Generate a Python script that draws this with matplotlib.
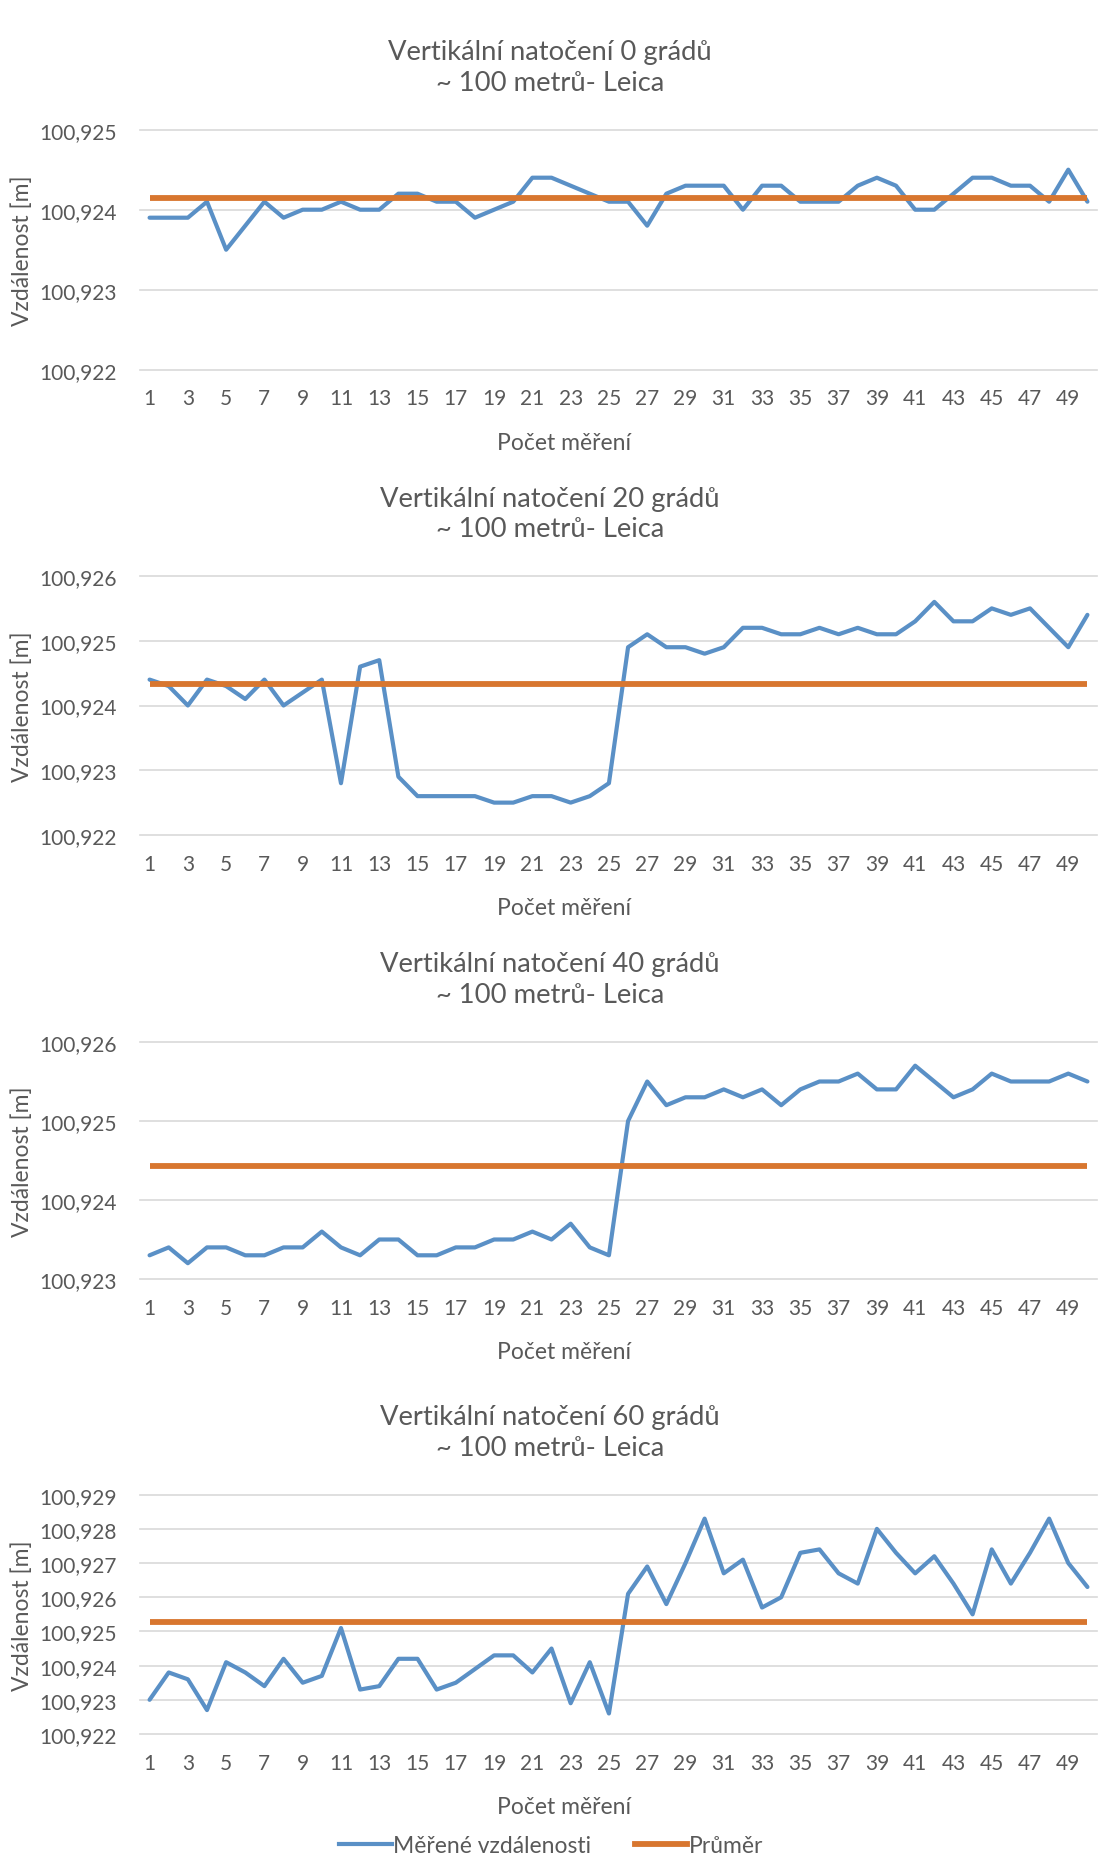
import matplotlib
matplotlib.use("Agg")
import matplotlib.pyplot as plt
from matplotlib.lines import Line2D

plt.rcParams['font.family'] = ['Lato', 'DejaVu Sans']

# ---------------- data ----------------
measurements = list(range(1, 51))
x_tick_values = list(range(1, 50, 2))

titles = ["Vertikální natočení 0 grádů", "Vertikální natočení 20 grádů",
          "Vertikální natočení 40 grádů", "Vertikální natočení 60 grádů"]
subtitle = "~ 100 metrů- Leica"
x_label = "Počet měření"
y_label = "Vzdálenost [m]"
series_names = ["Měřené vzdálenosti", "Průměr"]

vals_0 = [100.9239, 100.9239, 100.9239, 100.9241, 100.9235, 100.9238, 100.9241, 100.9239, 100.9240, 100.9240,
          100.9241, 100.9240, 100.9240, 100.9242, 100.9242, 100.9241, 100.9241, 100.9239, 100.9240, 100.9241,
          100.9244, 100.9244, 100.9243, 100.9242, 100.9241, 100.9241, 100.9238, 100.9242, 100.9243, 100.9243,
          100.9243, 100.9240, 100.9243, 100.9243, 100.9241, 100.9241, 100.9241, 100.9243, 100.9244, 100.9243,
          100.9240, 100.9240, 100.9242, 100.9244, 100.9244, 100.9243, 100.9243, 100.9241, 100.9245, 100.9241]

vals_20 = [100.9244, 100.9243, 100.9240, 100.9244, 100.9243, 100.9241, 100.9244, 100.9240, 100.9242, 100.9244,
           100.9228, 100.9246, 100.9247, 100.9229, 100.9226, 100.9226, 100.9226, 100.9226, 100.9225, 100.9225,
           100.9226, 100.9226, 100.9225, 100.9226, 100.9228, 100.9249, 100.9251, 100.9249, 100.9249, 100.9248,
           100.9249, 100.9252, 100.9252, 100.9251, 100.9251, 100.9252, 100.9251, 100.9252, 100.9251, 100.9251,
           100.9253, 100.9256, 100.9253, 100.9253, 100.9255, 100.9254, 100.9255, 100.9252, 100.9249, 100.9254]

vals_40 = [100.9233, 100.9234, 100.9232, 100.9234, 100.9234, 100.9233, 100.9233, 100.9234, 100.9234, 100.9236,
           100.9234, 100.9233, 100.9235, 100.9235, 100.9233, 100.9233, 100.9234, 100.9234, 100.9235, 100.9235,
           100.9236, 100.9235, 100.9237, 100.9234, 100.9233, 100.9250, 100.9255, 100.9252, 100.9253, 100.9253,
           100.9254, 100.9253, 100.9254, 100.9252, 100.9254, 100.9255, 100.9255, 100.9256, 100.9254, 100.9254,
           100.9257, 100.9255, 100.9253, 100.9254, 100.9256, 100.9255, 100.9255, 100.9255, 100.9256, 100.9255]

vals_60 = [100.9230, 100.9238, 100.9236, 100.9227, 100.9241, 100.9238, 100.9234, 100.9242, 100.9235, 100.9237,
           100.9251, 100.9233, 100.9234, 100.9242, 100.9242, 100.9233, 100.9235, 100.9239, 100.9243, 100.9243,
           100.9238, 100.9245, 100.9229, 100.9241, 100.9226, 100.9261, 100.9269, 100.9258, 100.9270, 100.9283,
           100.9267, 100.9271, 100.9257, 100.9260, 100.9273, 100.9274, 100.9267, 100.9264, 100.9280, 100.9273,
           100.9267, 100.9272, 100.9264, 100.9255, 100.9274, 100.9264, 100.9273, 100.9283, 100.9270, 100.9263]

means = [100.92415, 100.92433, 100.92443, 100.92527]

y_ticks_0 = [100.922, 100.923, 100.924, 100.925]
y_ticks_20 = [100.922, 100.923, 100.924, 100.925, 100.926]
y_ticks_40 = [100.923, 100.924, 100.925, 100.926]
y_ticks_60 = [100.922, 100.923, 100.924, 100.925, 100.926, 100.927, 100.928, 100.929]

series = [vals_0, vals_20, vals_40, vals_60]
y_ticks = [y_ticks_0, y_ticks_20, y_ticks_40, y_ticks_60]

# ---------------- layout (pixels) ----------------
W, H = 1098, 1865
DPI = 100
ax_left, ax_right = 140, 1097
ax_tops = [130.7, 577, 1043, 1495.7]
ax_bottoms = [370.7, 836, 1280, 1735]
tick_label_y = [398, 864, 1308, 1763]

BLUE = '#5A90C6'
ORANGE = '#D8762F'
GRID = '#D9D9D9'
TEXT = '#595959'

fig = plt.figure(figsize=(W / DPI, H / DPI), dpi=DPI)
fig.patch.set_facecolor('white')


def fx(px):
    return px / W


def fy(py):
    return 1 - py / H


for i in range(4):
    top, bot = ax_tops[i], ax_bottoms[i]
    ax = fig.add_axes([fx(ax_left), fy(bot), fx(ax_right - ax_left), (bot - top) / H])
    ax.plot(measurements, series[i], color=BLUE, lw=3.0, solid_joinstyle='round',
            solid_capstyle='round', zorder=3)
    ax.plot(measurements, [means[i]] * len(measurements), color=ORANGE, lw=4.2,
            solid_capstyle='butt', zorder=4)
    ax.set_xlim(0.5, 50.5)
    ax.set_ylim(y_ticks[i][0], y_ticks[i][-1])
    ax.set_yticks(y_ticks[i])
    ax.set_yticklabels([f"{v:.3f}".replace('.', ',') for v in y_ticks[i]])
    ax.set_xticks(x_tick_values)
    ax.set_xticklabels([str(v) for v in x_tick_values])
    for s in ax.spines.values():
        s.set_visible(False)
    ax.tick_params(axis='both', length=0, labelsize=15, labelcolor=TEXT)
    ax.tick_params(axis='y', pad=16.5)
    ax.tick_params(axis='x', pad=13.5)
    ax.grid(axis='y', color=GRID, lw=1.2)
    ax.set_axisbelow(True)
    for gl in ax.get_ygridlines():
        gl.set_clip_on(False)

    # titles
    fig.text(fx(550), fy(top - 78), titles[i], ha='center', va='center',
             fontsize=19.7, color=TEXT)
    fig.text(fx(550), fy(top - 47), subtitle, ha='center', va='center',
             fontsize=19.7, color=TEXT)
    # axis labels
    fig.text(fx(22), fy((top + bot) / 2), y_label, rotation=90, ha='center',
             va='center', fontsize=16.5, color=TEXT)
    fig.text(fx(564), fy(tick_label_y[i] + 45), x_label, ha='center', va='center',
             fontsize=16.5, color=TEXT)

handles = [Line2D([], [], color=BLUE, lw=3.0), Line2D([], [], color=ORANGE, lw=4.2)]
fig.legend(handles, series_names, loc='center', bbox_to_anchor=(fx(551), fy(1847)),
           ncol=2, frameon=False, fontsize=16.5, labelcolor=TEXT, handlelength=2.3,
           handletextpad=0.05, columnspacing=1.9)

fig.savefig('out.png', dpi=DPI, facecolor='white')
